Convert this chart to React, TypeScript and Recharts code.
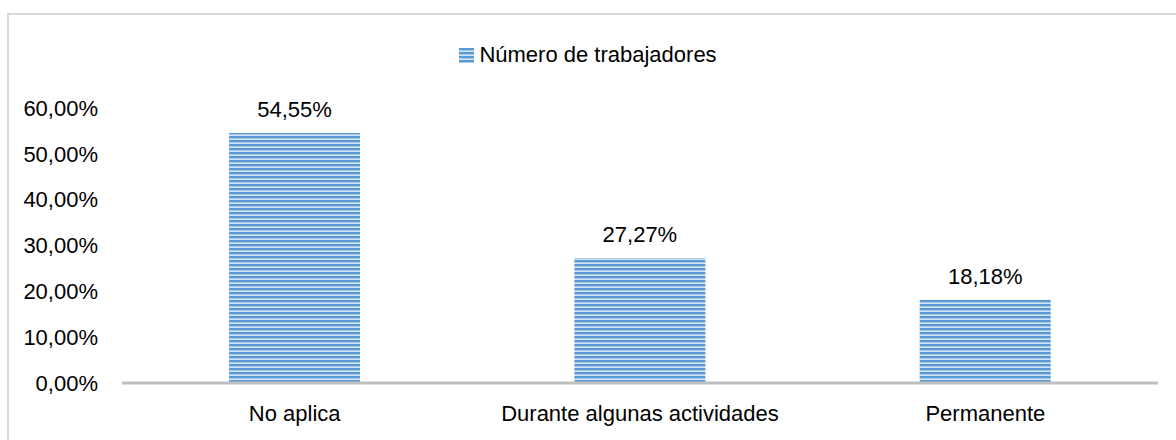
import { BarChart, Bar, XAxis, YAxis, LabelList } from "recharts";

const categories = ["No aplica", "Durante algunas actividades", "Permanente"];
const workers = [54.55, 27.27, 18.18];
const yTicks = [0, 10, 20, 30, 40, 50, 60];
const seriesName = "Número de trabajadores";

const data = categories.map((name, i) => ({ name, value: workers[i] }));

const FONT = "'Liberation Sans', Arial, sans-serif";
const FS = 22;
const pct = (v: number) => `${v.toFixed(2).replace(".", ",")}%`;

function LegendBox() {
  return (
    <div
      style={{
        position: "absolute",
        left: 0,
        top: 42,
        width: 1176,
        display: "flex",
        justifyContent: "center",
        alignItems: "center",
        fontFamily: FONT,
        fontSize: FS,
        lineHeight: "26px",
        color: "#000",
      }}
    >
      <svg width={15} height={15} style={{ marginRight: 5 }}>
        <rect width={15} height={15} fill="url(#stripes)" />
      </svg>
      <span>{seriesName}</span>
    </div>
  );
}

export default function App() {
  return (
    <div style={{ position: "absolute", left: 0, top: 0, width: 1176, height: 440, background: "#fff", overflow: "hidden" }}>
      <div
        style={{
          position: "absolute",
          left: 7,
          top: 13,
          width: 1180,
          height: 440,
          borderLeft: "2px solid #D9D9D9",
          borderTop: "2px solid #D9D9D9",
        }}
      />
      <BarChart
        width={1176}
        height={440}
        data={data}
        margin={{ top: 108, right: 18, left: 0, bottom: 0 }}
        barCategoryGap="31%"
        style={{ position: "absolute", left: 0, top: 0 }}
      >
        <defs>
          <pattern id="stripes" width={8} height={4} patternUnits="userSpaceOnUse">
            <rect width={8} height={4} fill="#D6E5F5" />
            <rect width={8} height={2.4} fill="#5B9BD5" />
          </pattern>
        </defs>
        <XAxis
          dataKey="name"
          height={57}
          axisLine={{ stroke: "#BFBFBF", strokeWidth: 3 }}
          tickLine={false}
          tickMargin={16}
          tick={{ fill: "#000", fontSize: FS, fontFamily: FONT }}
        />
        <YAxis
          width={122}
          domain={[0, 60]}
          ticks={yTicks}
          tickFormatter={pct}
          axisLine={false}
          tickLine={false}
          tickMargin={18}
          interval={0}
          tick={{ fill: "#000", fontSize: FS, fontFamily: FONT }}
        />
        <Bar dataKey="value" name={seriesName} fill="url(#stripes)" isAnimationActive={false}>
          <LabelList
            dataKey="value"
            position="top"
            offset={16}
            formatter={(v: number) => pct(v)}
            style={{ fill: "#000", fontSize: FS, fontFamily: FONT }}
          />
        </Bar>
      </BarChart>
      <LegendBox />
    </div>
  );
}
